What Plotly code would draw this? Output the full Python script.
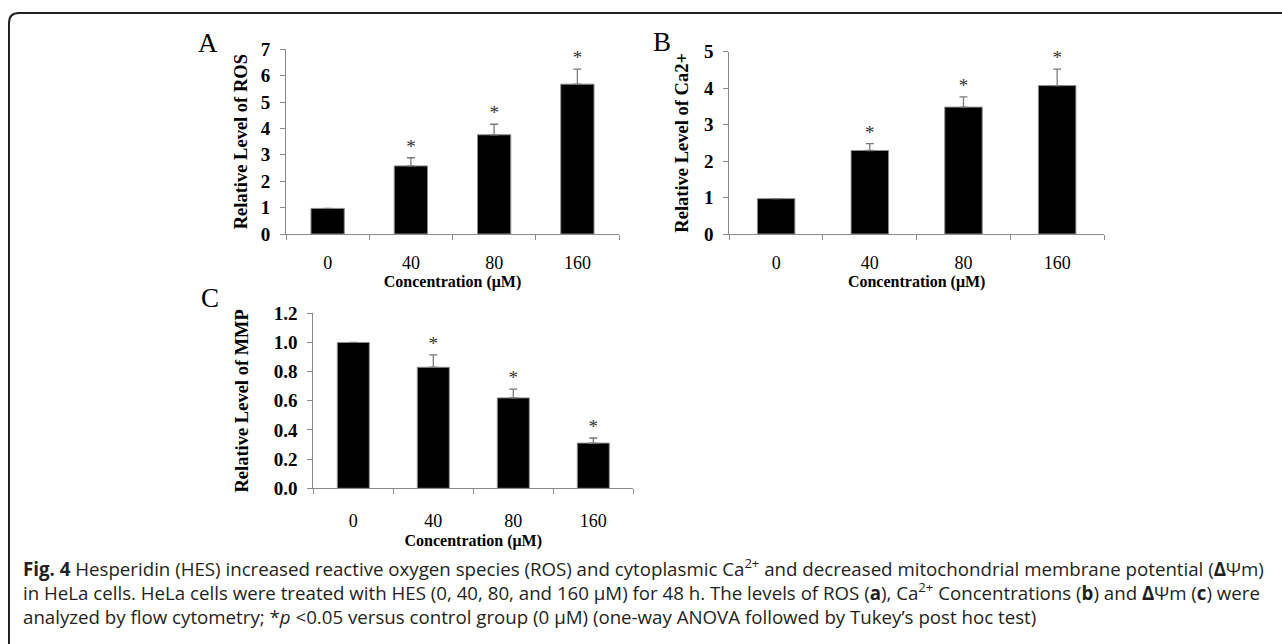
import plotly.graph_objects as go

categories = ["0", "40", "80", "160"]

ros_values = [0.97, 2.58, 3.76, 5.68]
ros_errors = [0, 0.31, 0.40, 0.57]

ca_values = [0.97, 2.29, 3.48, 4.07]
ca_errors = [0, 0.19, 0.28, 0.45]

mmp_values = [1.0, 0.83, 0.62, 0.31]
mmp_errors = [0, 0.085, 0.06, 0.035]

W, H = 1282, 644
SERIF = "Liberation Serif, Times New Roman, serif"
AXIS_GRAY = "#8a8a8a"

fig = go.Figure()

panels = [
    ("x", "y", ros_values, ros_errors),
    ("x2", "y2", ca_values, ca_errors),
    ("x3", "y3", mmp_values, mmp_errors),
]

for xa, ya, vals, errs in panels:
    fig.add_trace(go.Bar(
        x=categories, y=vals, xaxis=xa, yaxis=ya, width=0.4,
        marker=dict(color="black", line=dict(color="#8c8c8c", width=1)),
        error_y=dict(type="data", symmetric=False,
                     array=[e if e > 0 else None for e in errs],
                     arrayminus=[0] * len(errs),
                     color="#7a7a7a", thickness=1.3, width=4),
        showlegend=False, hoverinfo="skip",
    ))
    sx = [c for c, e in zip(categories, errs) if e > 0]
    sy = [v + e for v, e in zip(vals, errs) if e > 0]
    fig.add_trace(go.Scatter(
        x=sx, y=sy, xaxis=xa, yaxis=ya, mode="text", text=["*"] * len(sx),
        textposition="top center",
        textfont=dict(family=SERIF, size=19, color="#333333"),
        showlegend=False, hoverinfo="skip", cliponaxis=False,
    ))

def px_x(p):
    return p / W

def px_y(p):
    return 1 - p / H

def xaxis_cfg(x0, x1, anchor, lab_standoff):
    return dict(
        domain=[px_x(x0), px_x(x1)], anchor=anchor, type="category",
        range=[-0.5, 3.5], tickson="boundaries", ticks="outside", ticklen=5,
        tickcolor=AXIS_GRAY, showline=True, linecolor=AXIS_GRAY, linewidth=1,
        showgrid=False, zeroline=False, ticklabelstandoff=lab_standoff,
        automargin=False,
        tickfont=dict(family=SERIF, size=18, color="black"),
        title=dict(text="Concentration (μM)", standoff=4,
                   font=dict(family=SERIF, size=16, color="black", weight="bold")),
    )

def yaxis_cfg(y_top, y_bot, anchor, rng, dtick, title, title_standoff, fmt=None):
    d = dict(
        domain=[px_y(y_bot), px_y(y_top)], anchor=anchor, range=rng, dtick=dtick,
        ticks="outside", ticklen=5, tickcolor=AXIS_GRAY, showline=True,
        linecolor=AXIS_GRAY, linewidth=1, showgrid=False, zeroline=False,
        ticklabelstandoff=6, automargin=False,
        tickfont=dict(family=SERIF, size=19, color="black", weight="bold"),
        title=dict(text=title, standoff=title_standoff,
                   font=dict(family=SERIF, size=18.5, color="black", weight="bold")),
    )
    if fmt:
        d["tickformat"] = fmt
    return d

fig.update_layout(
    width=W, height=H, margin=dict(l=0, r=0, t=0, b=0, pad=0, autoexpand=False),
    paper_bgcolor="white", plot_bgcolor="white", showlegend=False,
    xaxis=xaxis_cfg(286, 619, "y", 12),
    yaxis=yaxis_cfg(49.3, 234, "x", [0, 7], 1, "Relative Level of ROS", 8),
    xaxis2=xaxis_cfg(729.3, 1104, "y2", 12),
    yaxis2=yaxis_cfg(51.7, 234, "x2", [0, 5], 1, "Relative Level of Ca2+", 10),
    xaxis3=xaxis_cfg(313.3, 633.3, "y3", 16),
    yaxis3=yaxis_cfg(313.3, 488.3, "x3", [0, 1.2], 0.2, "Relative Level of MMP", 20, ".1f"),
)

for letter, x, y in [("A", 208, 43), ("B", 662, 42), ("C", 210, 298)]:
    fig.add_annotation(x=px_x(x), y=px_y(y), xref="paper", yref="paper",
                       text=letter, showarrow=False, xanchor="center", yanchor="middle",
                       font=dict(family=SERIF, size=27, color="black"))

cap_font = dict(family="Open Sans, Noto Sans, sans-serif", size=18.7, color="#231f20")
caption_lines = [
    "<b>Fig. 4</b> Hesperidin (HES) increased reactive oxygen species (ROS) and cytoplasmic Ca<sup>2+</sup> and decreased mitochondrial membrane potential (<b>Δ</b>Ψm)",
    "in HeLa cells. HeLa cells were treated with HES (0, 40, 80, and 160 μM) for 48 h. The levels of ROS (<b>a</b>), Ca<sup>2+</sup> Concentrations (<b>b</b>) and <b>Δ</b>Ψm (<b>c</b>) were",
    "analyzed by flow cytometry; *<i>p</i> &lt;0.05 versus control group (0 μM) (one-way ANOVA followed by Tukey’s post hoc test)",
]
fig.add_annotation(x=px_x(21), y=px_y(591), xref="paper", yref="paper",
                   text="<br>".join(caption_lines), showarrow=False, align="left",
                   xanchor="left", yanchor="middle", font=cap_font)

# frame border with rounded top-left corner
x0 = px_x(9)
yt = px_y(13)
rx = 10 / W
ry = 10 / H
fig.add_shape(type="path", xref="paper", yref="paper",
              path=f"M {x0},0 L {x0},{yt - ry} Q {x0},{yt} {x0 + rx},{yt} L 1,{yt}",
              line=dict(color="#222222", width=2))

fig.write_html("out.html")
